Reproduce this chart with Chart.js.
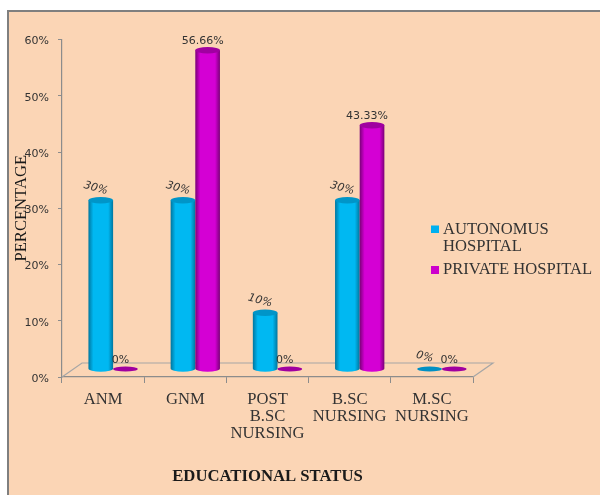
<!DOCTYPE html>
<html>
<head>
<meta charset="utf-8">
<script src="https://cdn.jsdelivr.net/npm/chart.js@4"></script>
<style>
  html, body { margin: 0; padding: 0; background: #fff; }
  canvas { display: block; }
</style>
</head>
<body>
<canvas id="statusChart" width="600" height="495"></canvas>
<script>
// Chart data
const categories = ['ANM', 'GNM', ['POST', 'B.SC', 'NURSING'], ['B.SC', 'NURSING'], ['M.SC', 'NURSING']];
const autonomousValues = [30, 30, 10, 30, 0];
const privateValues = [0, 56.66, 0, 43.33, 0];

const serif = '"Liberation Serif", serif';
const sans = '"DejaVu Sans", sans-serif';

// Fake 3D depth: the bars stand on a floor shifted right and up from the axis
const depthX = 20;
const depthY = 14;
const barShiftX = 10;
const barShiftY = 8;

// Cylinder shading for each dataset
const shades = [
    { edge: '#00769f', mid: '#00b8f2', cap: '#0095c8', flat: '#0090c4' },
    { edge: '#7a0078', mid: '#d400d4', cap: '#a000a0', flat: '#a000a0' }
];

function drawCylinder(ctx, x, top, base, width, shade) {
    const rx = width / 2;
    const ry = 3.2;
    if (base - top < 1) { // zero value, just a flat disc
        ctx.fillStyle = shade.flat;
        ctx.beginPath();
        ctx.ellipse(x, base, rx, 2.6, 0, 0, Math.PI * 2);
        ctx.fill();
        return;
    }
    const grad = ctx.createLinearGradient(x - rx, 0, x + rx, 0);
    grad.addColorStop(0, shade.edge);
    grad.addColorStop(0.2, shade.mid);
    grad.addColorStop(0.8, shade.mid);
    grad.addColorStop(1, shade.edge);
    ctx.fillStyle = grad;
    ctx.beginPath();
    ctx.moveTo(x - rx, top);
    ctx.lineTo(x - rx, base);
    ctx.ellipse(x, base, rx, ry, 0, Math.PI, 0, true);
    ctx.lineTo(x + rx, top);
    ctx.closePath();
    ctx.fill();
    ctx.fillStyle = shade.cap;
    ctx.beginPath();
    ctx.ellipse(x, top, rx, ry, 0, 0, Math.PI * 2);
    ctx.fill();
}

function drawValueLabel(ctx, text, x, y, tilted) {
    ctx.save();
    ctx.translate(x, y);
    if (tilted) ctx.rotate(15 * Math.PI / 180);
    ctx.font = (tilted ? 'italic ' : '') + '11px ' + sans;
    ctx.fillStyle = '#333333';
    ctx.textAlign = 'center';
    ctx.textBaseline = 'middle';
    ctx.fillText(text, 0, 0);
    ctx.restore();
}

const cylinderPlugin = {
    id: 'cylinders',
    beforeDraw(chart) {
        const ctx = chart.ctx;
        ctx.save();
        ctx.fillStyle = '#ffffff';
        ctx.fillRect(0, 0, chart.width, chart.height);
        ctx.fillStyle = '#7f7f7f';
        ctx.fillRect(7, 10, chart.width - 7, chart.height - 10);
        ctx.fillStyle = '#fbd5b5';
        ctx.fillRect(9, 12, chart.width - 9, chart.height - 12);
        ctx.restore();
    },
    beforeDatasetsDraw(chart) {
        const ctx = chart.ctx;
        const area = chart.chartArea;
        // floor of the 3D plot
        ctx.save();
        ctx.strokeStyle = '#a6a6a6';
        ctx.lineWidth = 1.2;
        ctx.beginPath();
        ctx.moveTo(area.left, area.bottom);
        ctx.lineTo(area.left + depthX, area.bottom - depthY);
        ctx.lineTo(area.right + depthX, area.bottom - depthY);
        ctx.lineTo(area.right, area.bottom);
        ctx.stroke();

        // bars from the geometry Chart.js worked out, front series last
        chart.data.datasets.forEach((ds, d) => {
            chart.getDatasetMeta(d).data.forEach((bar) => {
                const p = bar.getProps(['x', 'y', 'base', 'width']);
                drawCylinder(ctx, p.x + barShiftX, p.y - barShiftY, p.base - barShiftY, p.width, shades[d]);
            });
        });

        // value labels
        chart.data.datasets.forEach((ds, d) => {
            chart.getDatasetMeta(d).data.forEach((bar, i) => {
                const p = bar.getProps(['x', 'y']);
                const v = ds.data[i];
                const lift = d === 0 ? 12 : 9;
                drawValueLabel(ctx, v + '%', p.x + barShiftX - 5, p.y - barShiftY - lift, d === 0);
            });
        });
        ctx.restore();
        return false; // bars are already painted as cylinders
    },
    afterDraw(chart) {
        // legend sits on its own in the right margin
        const ctx = chart.ctx;
        ctx.save();
        ctx.textBaseline = 'middle';
        ctx.font = '16.6px ' + serif;
        ctx.fillStyle = '#00b0f0';
        ctx.fillRect(431, 225.5, 8, 7.5);
        ctx.fillStyle = '#cc00cc';
        ctx.fillRect(431, 266, 8, 8);
        ctx.fillStyle = '#333333';
        ctx.fillText('AUTONOMUS', 443, 229.5);
        ctx.fillText('HOSPITAL', 443, 247);
        ctx.fillText('PRIVATE HOSPITAL', 443, 270);
        ctx.restore();
    }
};

new Chart(document.getElementById('statusChart'), {
    type: 'bar',
    data: {
        labels: categories,
        datasets: [
            { label: 'AUTONOMUS HOSPITAL', data: autonomousValues, backgroundColor: '#00b0f0' },
            { label: 'PRIVATE HOSPITAL', data: privateValues, backgroundColor: '#cc00cc' }
        ]
    },
    options: {
        responsive: false,
        animation: false,
        devicePixelRatio: 1,
        categoryPercentage: 0.6,
        barPercentage: 1,
        layout: { padding: { top: 39.5, right: 127, bottom: 0, left: 0 } },
        plugins: {
            legend: { display: false },
            tooltip: { enabled: false }
        },
        scales: {
            x: {
                afterFit: (scale) => { scale.height = 118; },
                grid: { drawOnChartArea: false, drawTicks: true, tickLength: 6, color: '#8c8c8c' },
                border: { color: '#8c8c8c', width: 1.2 },
                ticks: {
                    color: '#333333',
                    font: { family: serif, size: 16.6, lineHeight: 1.03 },
                    maxRotation: 0,
                    autoSkip: false,
                    padding: 8
                },
                title: {
                    display: true,
                    text: 'EDUCATIONAL STATUS',
                    color: '#1a1a1a',
                    font: { family: serif, size: 16.7, weight: 'bold' },
                    padding: { top: 0, bottom: 8 }
                }
            },
            y: {
                min: 0,
                max: 60,
                afterFit: (scale) => { scale.width = 62; },
                grid: { drawOnChartArea: false, drawTicks: true, tickLength: 4, color: '#8c8c8c' },
                border: { color: '#8c8c8c', width: 1.2 },
                ticks: {
                    stepSize: 10,
                    color: '#333333',
                    font: { family: sans, size: 11 },
                    padding: 9,
                    labelOffset: 2,
                    callback: (v) => v + '%'
                },
                title: {
                    display: true,
                    text: 'PERCENTAGE',
                    color: '#1a1a1a',
                    font: { family: serif, size: 16.6 },
                    padding: { top: 12, bottom: 0 }
                }
            }
        }
    },
    plugins: [cylinderPlugin]
});
</script>
</body>
</html>
